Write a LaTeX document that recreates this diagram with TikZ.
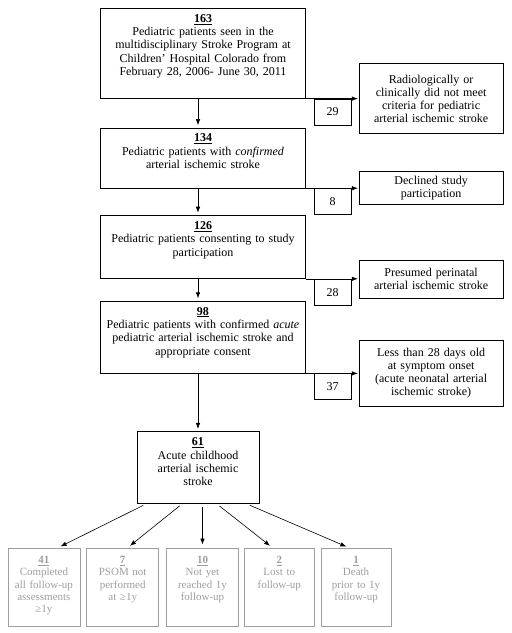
\documentclass[tikz,border=0pt]{standalone}
\usepackage{fontspec}
\setmainfont{Liberation Serif}
\usepackage{tikz}
\usetikzlibrary{positioning, arrows.meta}
\definecolor{fadegray}{gray}{0.62}

\begin{document}
\begin{tikzpicture}[x=1pt, y=1pt, semithick, >={Latex[length=6pt,width=4.5pt]},
  stage/.style={draw, align=center, text width=197pt, inner xsep=4pt, inner ysep=5pt, text height=9pt, font=\fontsize{12}{13.3}\selectfont},
  excl/.style={draw, align=center, text width=136pt, inner xsep=4pt, inner ysep=3pt, font=\fontsize{12}{13}\selectfont},
  tally/.style={draw, minimum width=37pt, minimum height=26pt, inner sep=0pt, font=\fontsize{12}{13}\selectfont},
  outcome/.style={draw=fadegray, text=fadegray, line width=0.8pt, align=center, text width=66pt, inner xsep=3pt, inner ysep=5pt, text height=10pt, text depth=58pt, font=\fontsize{11}{12.3}\selectfont}]
        \useasboundingbox (0,0) rectangle (512,-633);
        \node[stage, anchor=north, text depth=71pt] (b163) at (203,-8) {\textbf{\underline{163}}\\ Pediatric patients seen in the\\ multidisciplinary Stroke Program at\\ Children' Hospital Colorado from\\ February 28, 2006- June 30, 2011};
        \node[stage, text depth=41pt, below=29pt of b163] (b134) {\textbf{\underline{134}}\\ Pediatric patients with \textit{confirmed}\\ arterial ischemic stroke};
        \node[stage, text depth=44pt, below=27pt of b134] (b126) {\textbf{\underline{126}}\\ Pediatric patients consenting to study\\ participation};
        \node[stage, text depth=53pt, below=22pt of b126] (b98) {\textbf{\underline{98}}\\ Pediatric patients with confirmed \textit{acute}\\ pediatric arterial ischemic stroke and\\ appropriate consent};
        \node[stage, text width=114pt, text depth=53pt, below=58pt of b98, xshift=-5pt] (b61) {\textbf{\underline{61}}\\ Acute childhood\\ arterial ischemic\\ stroke};
        %---------------------------
        \node[excl, minimum height=70pt, right=53pt of b163.south east] (x1) {Radiologically or\\ clinically did not meet\\ criteria for pediatric\\ arterial ischemic stroke};
        \node[excl, minimum height=33pt, right=53pt of b134.south east] (x2) {Declined study\\ participation};
        \node[excl, minimum height=38pt, right=53pt of b126.south east] (x3) {Presumed perinatal\\ arterial ischemic stroke};
        \node[excl, minimum height=66pt, right=53pt of b98.south east] (x4) {Less than 28 days old\\ at symptom onset\\ (acute neonatal arterial\\ ischemic stroke)};
        \node[tally, below right=0pt and 8pt of b163.south east] (n29) {29};
        \node[tally, below right=0pt and 8pt of b134.south east] (n8) {8};
        \node[tally, below right=0pt and 8pt of b126.south east] (n28) {28};
        \node[tally, below right=0pt and 8pt of b98.south east] (n37) {37};
        %---------------------------
        \node[outcome, below=44pt of b61, xshift=4.5pt] (g10) {\textbf{\underline{10}}\\ Not yet\\ reached 1y\\ follow-up};
        \node[outcome, left=7pt of g10] (g7) {\textbf{\underline{7}}\\ PSOM not\\ performed\\ at ≥1y};
        \node[outcome, left=6pt of g7] (g41) {\textbf{\underline{41}}\\ Completed\\ all follow-up\\ assessments\\ ≥1y};
        \node[outcome, text width=64pt, right=5pt of g10] (g2) {\textbf{\underline{2}}\\ Lost to\\ follow-up};
        \node[outcome, text width=64pt, right=6pt of g2] (g1) {\textbf{\underline{1}}\\ Death\\ prior to 1y\\ follow-up};
        %--------------------------
        \path[->, shorten >=2.5pt]
        (b163.south -| b61.north) edge (b134.north -| b61.north)
        (b134.south -| b61.north) edge (b126.north -| b61.north)
        (b126.south -| b61.north) edge (b98.north -| b61.north)
        (b98.south -| b61.north) edge (b61.north);
        \path[->, shorten >=1pt]
        (b163.south east) edge (x1.west)
        (b134.south east) edge (x2.west)
        (b126.south east) edge (x3.west)
        (b98.south east) edge (x4.west);
        \path[->, shorten <=3pt, shorten >=3.5pt]
        ([xshift=-52pt]b61.south) edge ([xshift=13.5pt]g41.north)
        ([xshift=-16pt]b61.south) edge ([xshift=4.5pt]g7.north)
        ([xshift=4.5pt]b61.south) edge (g10.north)
        ([xshift=19pt]b61.south) edge ([xshift=-6.5pt]g2.north)
        ([xshift=49pt]b61.south) edge ([xshift=-6.5pt]g1.north);
\end{tikzpicture}
\end{document}
